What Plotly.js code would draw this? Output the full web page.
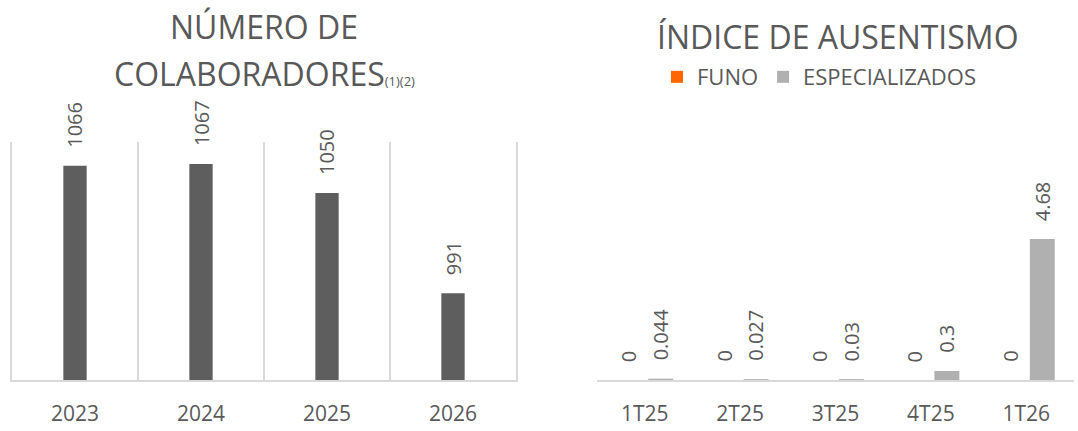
<!DOCTYPE html>
<html>
<head>
<meta charset="utf-8">
<script src="https://cdn.plot.ly/plotly-3.0.1.min.js"></script>
<style>html,body{margin:0;padding:0;background:#fff;}#chart{width:1078px;height:431px;}</style>
</head>
<body>
<div id="chart"></div>
<script>
// Left chart data
const years = ["2023", "2024", "2025", "2026"];
const colaboradores = [1066, 1067, 1050, 991];

// Right chart data
const trimestres = ["1T25", "2T25", "3T25", "4T25", "1T26"];
const funo = [0, 0, 0, 0, 0];
const especializados = [0.044, 0.027, 0.03, 0.3, 4.68];

const TXT = "#595959";
const FONT = "Open Sans, Noto Sans, sans-serif";
const GRID = "#d9d9d9";
const BARGAP = 0.33;

const traces = [
  {type: "bar", x: years, y: colaboradores, xaxis: "x", yaxis: "y", width: 0.185,
   marker: {color: "#5e5e5e"}, showlegend: false, hoverinfo: "skip"},
  {type: "bar", name: "FUNO", x: trimestres, y: funo, xaxis: "x2", yaxis: "y2",
   marker: {color: "#ff6600"}, hoverinfo: "skip"},
  {type: "bar", name: "ESPECIALIZADOS", x: trimestres, y: especializados, xaxis: "x2", yaxis: "y2",
   marker: {color: "#b0b0b0"}, hoverinfo: "skip"}
];

const annotations = [];
// titles
annotations.push({text: "NÚMERO DE", xref: "paper", yref: "paper", x: 0.2449, y: 1 - 26/431,
  xanchor: "center", yanchor: "middle", showarrow: false, font: {family: FONT, size: 32, color: TXT}});
annotations.push({text: "COLABORADORES<span style='font-size:13px'>(1)(2)</span>", xref: "paper", yref: "paper", x: 0.2449, y: 1 - 73/431,
  xanchor: "center", yanchor: "middle", showarrow: false, font: {family: FONT, size: 32, color: TXT}});
annotations.push({text: "ÍNDICE DE AUSENTISMO", xref: "paper", yref: "paper", x: 838/1078, y: 1 - 36/431,
  xanchor: "center", yanchor: "middle", showarrow: false, font: {family: FONT, size: 32, color: TXT}});

// data labels left (category index positions)
years.forEach((c, i) => {
  annotations.push({text: String(colaboradores[i]), x: i, y: colaboradores[i], xref: "x", yref: "y",
    textangle: -90, yanchor: "bottom", xanchor: "center", yshift: 16, showarrow: false,
    font: {family: FONT, size: 20, color: TXT}});
});
// data labels right (grouped offsets derived from bargap)
const off = (1 - BARGAP) / 4;
trimestres.forEach((c, i) => {
  annotations.push({text: String(funo[i]), x: i - off, y: funo[i], xref: "x2", yref: "y2",
    textangle: -90, yanchor: "bottom", xanchor: "center", yshift: 16, showarrow: false,
    font: {family: FONT, size: 20, color: TXT}});
  annotations.push({text: String(especializados[i]), x: i + off, y: especializados[i], xref: "x2", yref: "y2",
    textangle: -90, yanchor: "bottom", xanchor: "center", yshift: 16, showarrow: false,
    font: {family: FONT, size: 20, color: TXT}});
});

const layout = {
  width: 1078, height: 431,
  margin: {l: 0, r: 0, t: 0, b: 0},
  paper_bgcolor: "#ffffff", plot_bgcolor: "#ffffff",
  font: {family: FONT, color: TXT},
  barmode: "group", bargap: BARGAP, bargroupgap: 0.22,
  xaxis: {domain: [12/1078, 516/1078], anchor: "y", type: "category", categoryorder: "array", categoryarray: years,
    range: [-0.5, years.length - 0.5], tickson: "boundaries",
    showgrid: true, gridcolor: GRID, gridwidth: 2, showline: true, linecolor: GRID, linewidth: 2,
    ticks: "", tickfont: {family: FONT, size: 21, color: TXT}, ticklabelstandoff: 14, fixedrange: true},
  yaxis: {domain: [51/431, 289/431], anchor: "x", range: [940, 1080], showticklabels: false,
    showgrid: false, zeroline: false, showline: true, mirror: true, linecolor: GRID, linewidth: 2, ticks: "", fixedrange: true},
  xaxis2: {domain: [597/1078, 1074/1078], anchor: "y2", type: "category", categoryorder: "array", categoryarray: trimestres,
    range: [-0.5, trimestres.length - 0.5], showgrid: false,
    showline: true, linecolor: GRID, linewidth: 2, ticks: "",
    tickfont: {family: FONT, size: 21, color: TXT}, ticklabelstandoff: 14, fixedrange: true},
  yaxis2: {domain: [51/431, 289/431], anchor: "x2", range: [0, 7.9], showticklabels: false,
    showgrid: false, zeroline: false, showline: false, ticks: "", fixedrange: true},
  showlegend: true,
  legend: {orientation: "h", x: 657/1078, y: 1 - 77/431, xanchor: "left", yanchor: "middle",
    font: {family: FONT, size: 22, color: TXT}, bgcolor: "rgba(0,0,0,0)", itemwidth: 30, traceorder: "normal"},
  annotations: annotations
};

Plotly.newPlot("chart", traces, layout, {staticPlot: true, displayModeBar: false});
</script>
</body>
</html>
